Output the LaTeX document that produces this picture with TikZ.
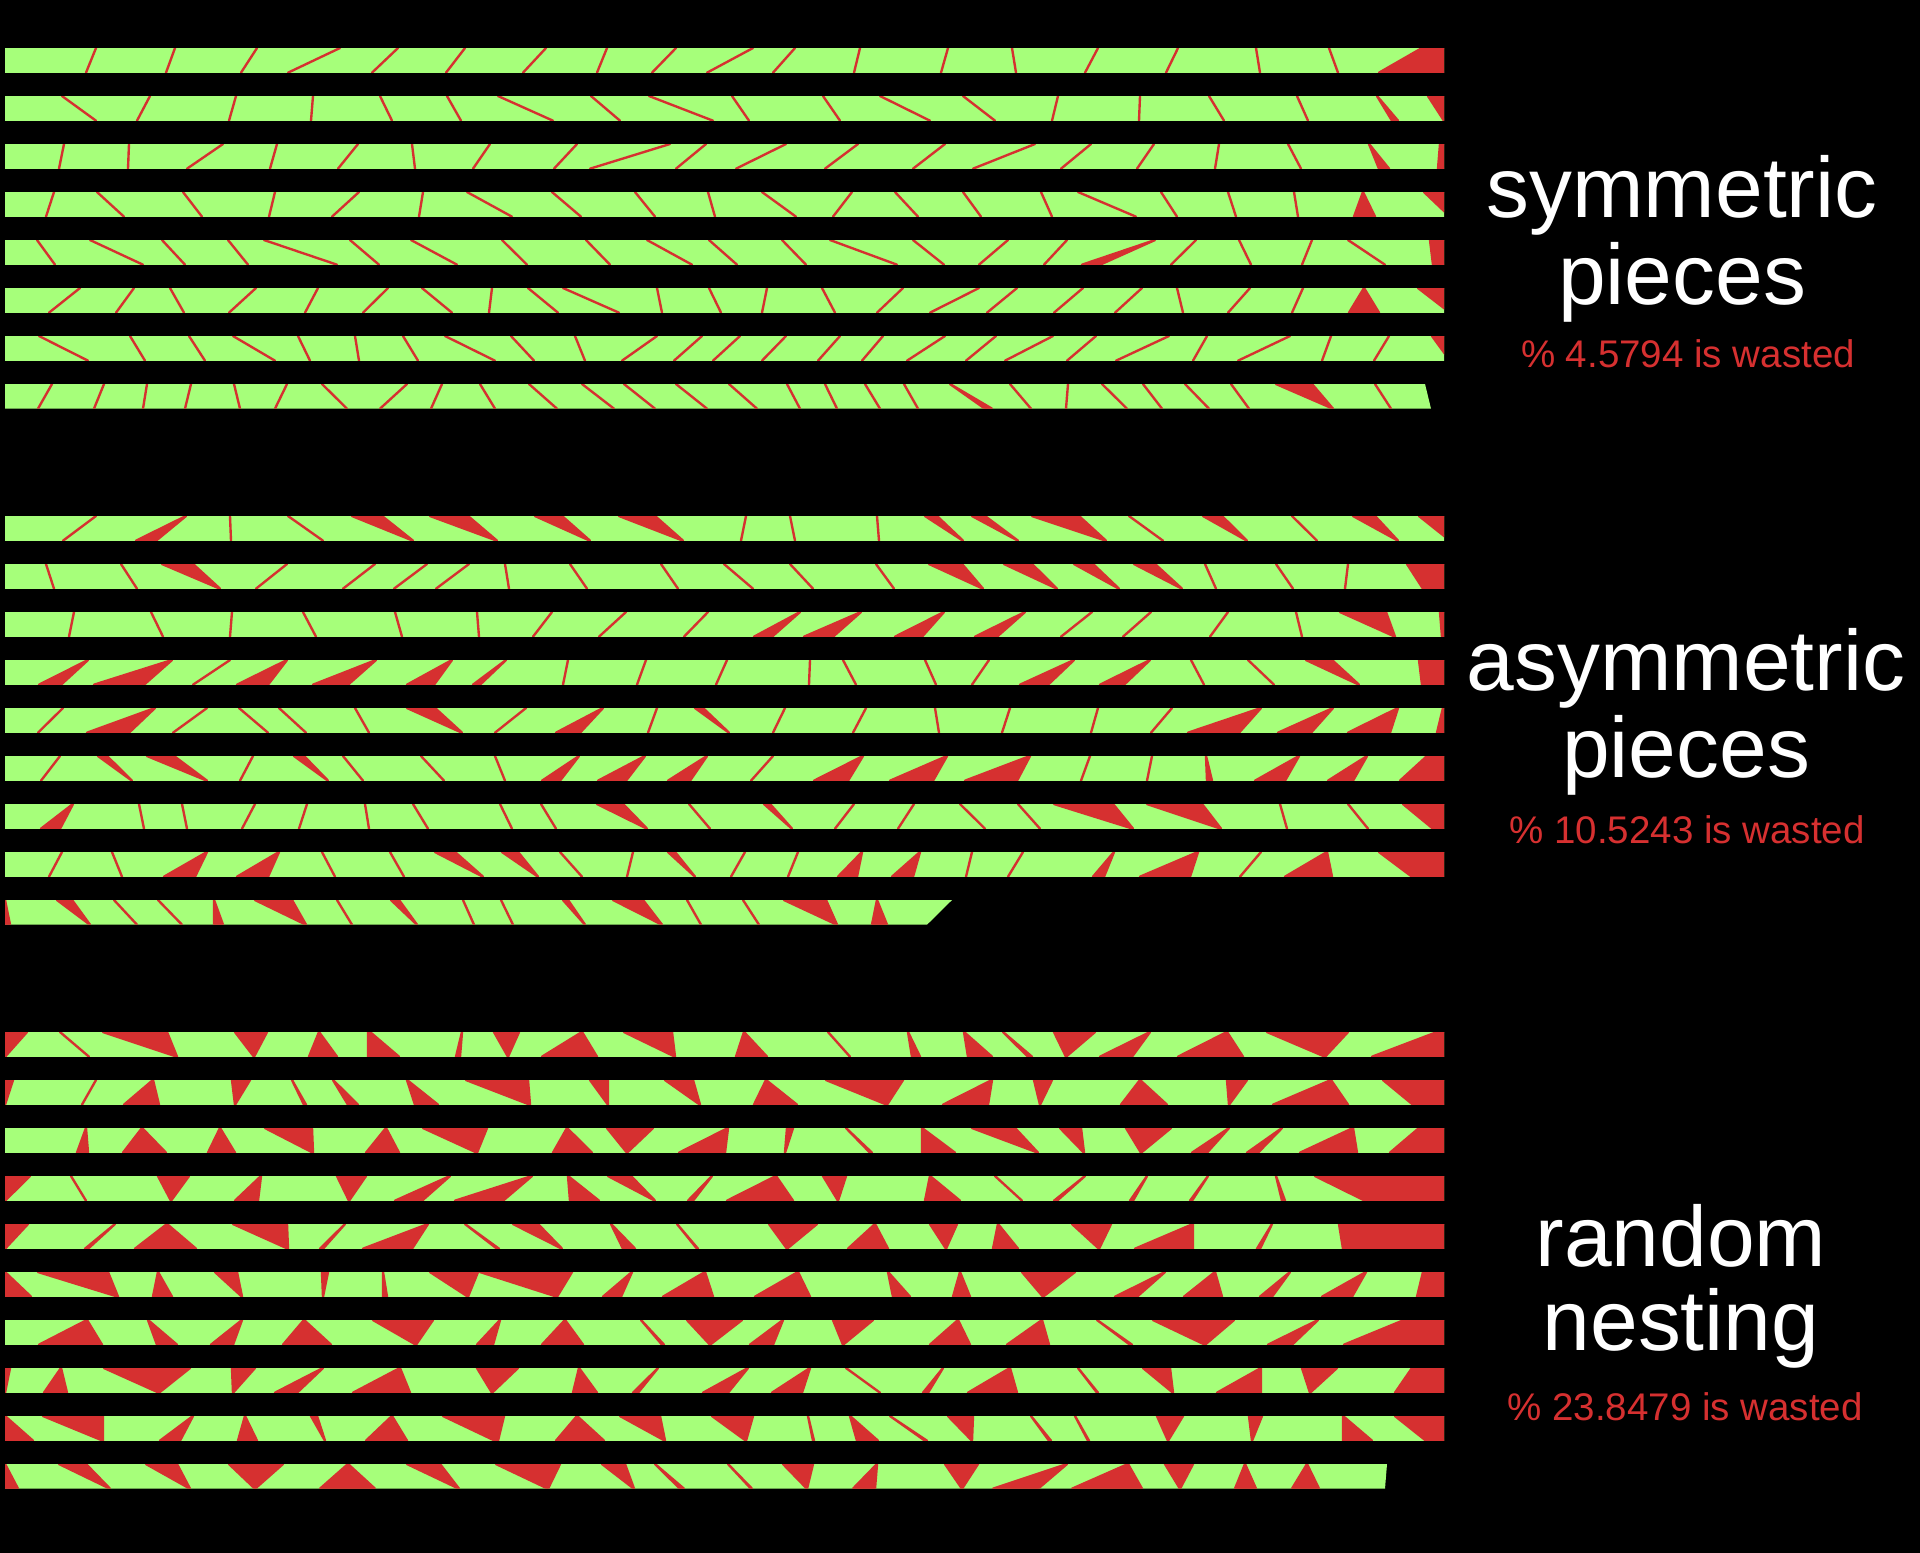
\documentclass[tikz,border=0pt]{standalone}
\usepackage{fontspec}
\setmainfont{Liberation Sans}
\definecolor{leafgreen}{RGB}{166,255,122}
\definecolor{wastered}{RGB}{214,48,48}
\tikzset{
  leaf/.style={fill=leafgreen},
  waste/.style={fill=wastered, draw=wastered, line width=0.95pt, line join=round},
  title/.style={text=white, inner sep=0pt, anchor=base, font=\fontsize{34.3}{34.3}\selectfont},
  subtitle/.style={text=wastered, inner sep=0pt, anchor=base, font=\fontsize{15.4}{15.4}\selectfont}
}
% #1 top y, #2 right end (top), #3 right end (bottom), #4 list of waste cuts t1/t2/b1/b2
\newcommand\cutrow[4]{%
  \begin{scope}
    \clip (5,#1) -- (#2,#1) -- (#3,#1+24.7) -- (5,#1+24.7) -- cycle;
    \fill[leaf] (0,#1-2) rectangle (1450,#1+27);
    \foreach \ta/\tb/\ba/\bb in {#4} {
      \filldraw[waste] (\ta,#1) -- (\tb,#1) -- (\bb,#1+24.7) -- (\ba,#1+24.7) -- cycle;
    }
  \end{scope}}
\begin{document}
\begin{tikzpicture}[x=0.4pt,y=-0.4pt]
\fill[black] (0,0) rectangle (1920,1553);
% ---------------- symmetric pieces ----------------
\cutrow{48}{1444}{1444}{96/96/86/86,175/175/166/166,257/257/241/241,340/340/288/288,398/398/372/372,465/465/446/446,546/546/523/523,607/607/597/597,676/676/652/652,753/753/707/707,795/795/773/773,860/860/854/854,948/948/941/941,1012/1012/1016/1016,1098/1098/1085/1085,1178/1178/1166/1166,1256/1256/1260/1260,1329/1329/1338/1338,1422/1450/1379/1450}
\cutrow{96}{1444}{1444}{62/62/96/96,150/150/137/137,236/236/229/229,313/313/311/311,380/380/392/392,447/447/461/461,498/498/553/553,591/591/620/620,649/649/713/713,732/732/749/749,823/823/840/840,880/880/930/930,963/963/995/995,1058/1058/1052/1052,1140/1140/1139/1139,1209/1209/1224/1224,1297/1297/1308/1308,1377/1377/1392/1398,1428/1450/1444/1450}
\cutrow{144}{1444}{1444}{64/64/59/59,129/129/128/128,223/223/187/187,277/277/270/270,358/358/338/338,412/412/415/415,490/490/473/473,577/577/554/554,670/670/590/590,706/706/676/676,786/786/736/736,858/858/825/825,945/945/913/913,1035/1035/973/973,1091/1091/1061/1061,1154/1154/1137/1137,1219/1219/1215/1215,1288/1288/1301/1301,1369/1369/1379/1389,1440/1450/1438/1450}
\cutrow{192}{1444}{1444}{54/54/46/46,97/97/124/124,183/183/202/202,275/275/269/269,359/359/332/332,423/423/419/419,467/467/512/512,552/552/581/581,635/635/655/655,708/708/715/715,762/762/796/796,852/852/833/833,895/895/918/918,963/963/981/981,1041/1041/1052/1052,1078/1078/1136/1136,1161/1161/1177/1177,1228/1228/1236/1236,1294/1294/1298/1298,1363/1363/1354/1375,1424/1450/1450/1450}
\cutrow{240}{1444}{1444}{37/37/55/55,90/90/143/143,162/162/185/185,228/228/248/248,264/264/337/337,350/350/379/379,411/411/457/457,502/502/527/527,586/586/610/610,647/647/692/692,709/709/737/737,782/782/806/806,830/830/897/897,913/913/944/944,1008/1008/979/979,1067/1067/1044/1044,1155/1155/1082/1100,1196/1196/1171/1171,1239/1239/1251/1251,1312/1312/1302/1302,1348/1348/1385/1385,1430/1450/1433/1450}
\cutrow{288}{1444}{1444}{80/80/49/49,134/134/116/116,170/170/184/184,256/256/229/229,318/318/305/305,388/388/363/363,422/422/452/452,492/492/489/489,528/528/558/558,563/563/619/619,657/657/662/662,709/709/721/721,767/767/762/762,822/822/835/835,903/903/877/877,979/979/930/930,1017/1017/987/987,1083/1083/1054/1054,1142/1142/1115/1115,1177/1177/1183/1183,1250/1250/1228/1228,1303/1303/1292/1292,1364/1364/1349/1379,1418/1450/1450/1450}
\cutrow{336}{1444}{1444}{39/39/88/88,130/130/145/145,189/189/205/205,233/233/275/275,298/298/310/310,355/355/359/359,403/403/418/418,445/445/495/495,511/511/534/534,575/575/585/585,657/657/622/622,702/702/674/674,740/740/713/713,786/786/762/762,840/840/818/818,883/883/862/862,945/945/907/907,996/996/966/966,1053/1053/1005/1005,1096/1096/1067/1067,1169/1169/1116/1116,1207/1207/1193/1193,1290/1290/1238/1238,1331/1331/1322/1322,1389/1389/1374/1374,1432/1450/1450/1450}
\cutrow{384}{1425}{1431}{52/52/38/38,104/104/94/94,147/147/143/143,191/191/185/185,234/234/240/240,287/287/275/275,322/322/347/347,407/407/380/380,442/442/431/431,480/480/495/495,529/529/557/557,582/582/614/614,624/624/655/655,676/676/707/707,729/729/757/757,787/787/800/800,825/825/837/837,865/865/880/880,904/904/918/918,950/950/985/992,1010/1010/1031/1031,1068/1068/1066/1066,1102/1102/1127/1127,1143/1143/1162/1162,1185/1185/1209/1209,1231/1231/1249/1249,1276/1312/1333/1333,1375/1375/1391/1391}
% ---------------- asymmetric pieces ----------------
\cutrow{516}{1444}{1444}{96/96/63/63,186/186/136/156,230/230/231/231,288/288/323/323,352/382/413/413,430/468/497/497,535/562/590/590,619/655/683/683,746/746/741/741,790/790/795/795,877/877/879/879,925/937/963/963,972/985/1018/1018,1032/1079/1106/1106,1129/1129/1163/1163,1203/1222/1247/1247,1292/1292/1317/1317,1353/1375/1398/1398,1419/1450/1450/1450}
\cutrow{564}{1444}{1444}{46/46/54/54,121/121/137/137,162/193/220/220,287/287/256/256,375/375/343/343,427/427/394/394,469/469/436/436,505/505/509/509,570/570/587/587,661/661/678/678,724/724/753/753,790/790/813/813,876/876/894/894,929/962/983/983,1004/1032/1057/1057,1074/1093/1119/1119,1134/1155/1182/1182,1205/1205/1216/1216,1276/1276/1293/1293,1348/1348/1345/1345,1407/1450/1423/1450}
\cutrow{612}{1444}{1444}{74/74/69/69,151/151/163/163,232/232/230/230,303/303/316/316,395/395/402/402,477/477/479/479,552/552/533/533,626/626/599/599,708/708/684/684,800/800/754/772,861/861/804/833,944/944/895/922,1025/1025/975/997,1092/1092/1061/1061,1151/1151/1123/1123,1228/1228/1210/1210,1296/1296/1302/1302,1340/1386/1395/1395,1440/1450/1442/1450}
\cutrow{660}{1444}{1444}{88/88/39/61,172/172/94/144,230/230/193/193,287/287/237/268,376/376/313/348,452/452/407/434,506/506/473/480,568/568/563/563,646/646/637/637,727/727/716/716,810/810/809/809,843/843/856/856,925/925/936/936,989/989/972/972,1074/1074/1020/1048,1150/1150/1100/1124,1191/1191/1204/1204,1248/1248/1274/1274,1306/1332/1359/1359,1419/1450/1422/1450}
\cutrow{708}{1444}{1444}{63/63/38/38,155/155/87/129,207/207/173/173,239/239/268/268,279/279/306/306,355/355/369/369,407/435/462/462,526/526/495/495,603/603/556/580,657/657/648/648,695/703/729/729,785/785/773/773,866/866/853/853,935/935/939/939,1010/1010/1002/1002,1098/1098/1091/1091,1172/1172/1151/1151,1261/1261/1188/1239,1333/1333/1278/1311,1398/1398/1348/1390,1443/1450/1437/1450}
\cutrow{756}{1444}{1444}{60/60/41/41,98/107/132/132,147/174/207/207,253/253/240/240,294/304/328/328,343/343/363/363,421/421/444/444,495/495/505/505,579/579/542/560,645/645/598/626,707/707/668/690,773/773/751/751,863/863/814/848,947/947/890/933,1030/1030/965/1017,1090/1090/1081/1081,1152/1152/1147/1147,1206/1206/1207/1212,1299/1299/1255/1285,1367/1367/1328/1353,1427/1450/1400/1450}
\cutrow{804}{1444}{1444}{73/73/41/60,139/139/144/144,182/182/187/187,255/255/242/242,307/307/299/299,365/365/369/369,413/413/428/428,500/500/512/512,541/541/556/556,597/623/647/647,689/689/710/710,764/770/792/792,854/854/835/835,914/914/898/898,960/960/985/985,1018/1018/1040/1040,1054/1113/1133/1133,1147/1202/1221/1221,1280/1280/1287/1287,1348/1348/1368/1368,1403/1450/1433/1450}
\cutrow{852}{1444}{1444}{62/62/49/49,112/112/122/122,207/207/164/195,279/279/237/268,322/322/335/335,390/390/404/404,435/455/483/483,502/518/538/538,560/560/582/582,633/633/627/627,668/675/695/695,745/745/731/731,798/798/788/788,862/862/838/857,920/920/892/913,972/972/966/966,1023/1023/1008/1008,1114/1114/1093/1104,1198/1198/1140/1190,1261/1261/1240/1240,1327/1327/1285/1332,1379/1450/1412/1450}
\cutrow{900}{952}{927}{5/5/5/10,57/72/90/90,114/114/137/137,158/158/182/182,214/214/214/223,255/292/306/306,337/337/352/352,391/399/417/417,463/463/474/474,501/501/513/513,563/568/585/585,613/643/662/662,687/687/701/701,743/743/759/759,784/826/837/837,877/877/872/887}
% ---------------- random nesting ----------------
\cutrow{1032}{1444}{1444}{5/27/5/5,60/60/89/89,103/167/177/177,235/267/254/254,319/319/309/337,368/370/368/399,462/462/456/460,494/519/508/508,582/582/542/597,624/672/675/675,744/744/736/767,828/828/850/850,908/908/912/920,964/964/968/992,1003/1003/1028/1032,1054/1095/1066/1066,1150/1150/1100/1132,1227/1227/1178/1243,1267/1348/1325/1325,1437/1450/1372/1450}
\cutrow{1080}{1444}{1444}{5/13/5/5,96/96/82/82,153/153/124/159,232/250/235/235,292/292/304/306,333/333/348/358,407/407/415/438,466/528/530/530,590/608/608/608,665/693/700/700,766/766/754/797,826/903/887/887,992/992/943/988,1034/1052/1040/1040,1140/1140/1121/1167,1227/1247/1229/1229,1331/1331/1273/1348,1383/1450/1413/1450}
\cutrow{1128}{1444}{1444}{86/86/77/88,142/142/123/166,220/220/208/235,265/312/313/313,386/386/366/399,423/487/477/477,567/567/553/592,607/653/627/627,728/728/679/725,787/793/785/785,846/846/870/872,922/922/922/955,972/1015/1038/1038,1060/1081/1084/1084,1126/1171/1141/1141,1229/1229/1192/1207,1282/1282/1247/1258,1353/1353/1300/1357,1419/1450/1390/1450}
\cutrow{1176}{1444}{1444}{5/30/5/5,71/71/86/86,158/189/171/171,261/261/235/258,337/366/349/349,450/450/395/422,532/532/455/503,568/568/570/599,608/631/655/655,712/712/688/693,776/776/727/793,823/846/838/838,930/930/925/960,995/995/1022/1022,1085/1085/1054/1057,1147/1147/1130/1133,1208/1208/1190/1192,1276/1276/1282/1285,1315/1450/1365/1450}
\cutrow{1224}{1444}{1444}{5/28/5/5,115/115/85/88,167/167/135/196,233/287/288/288,345/345/320/323,428/428/363/412,465/465/497/499,513/538/562/562,611/611/623/635,677/677/697/698,769/817/787/787,875/875/848/888,930/957/946/946,998/998/993/1018,1072/1111/1099/1099,1193/1193/1135/1193,1272/1272/1257/1260,1339/1450/1343/1450}
\cutrow{1272}{1444}{1444}{5/5/5/31,38/108/118/118,158/158/153/172,215/237/242/242,322/328/323/323,383/383/383/387,430/478/468/468,480/572/557/557,632/632/603/621,705/705/663/713,798/798/755/810,888/888/893/910,960/960/953/970,1022/1075/1043/1043,1165/1165/1115/1137,1215/1215/1184/1222,1290/1290/1260/1272,1366/1366/1322/1352,1423/1450/1417/1450}
\cutrow{1320}{1444}{1444}{87/87/39/102,148/148/157/177,242/242/211/233,304/304/283/331,373/433/416/416,500/500/477/493,565/565/542/583,641/641/662/664,687/742/710/710,783/783/750/773,833/873/843/843,958/958/930/970,1042/1042/1007/1049,1097/1097/1130/1132,1153/1234/1205/1205,1318/1318/1268/1292,1404/1450/1344/1450}
\cutrow{1368}{1444}{1444}{5/10/5/5,61/61/44/67,104/190/159/159,232/255/233/233,323/323/275/297,400/400/353/410,477/518/492/492,579/579/573/597,658/658/633/638,748/748/703/728,810/810/772/802,846/846/880/880,943/943/923/928,1010/1010/968/1017,1078/1078/1097/1098,1143/1170/1173/1173,1261/1261/1217/1261,1302/1337/1310/1310,1412/1450/1395/1450}
\cutrow{1416}{1444}{1444}{5/5/5/33,43/103/103/103,193/193/160/180,245/245/238/257,311/317/325/325,392/392/366/407,443/504/495/498,577/577/556/604,620/660/665/665,712/753/746/746,808/808/813/814,850/850/857/878,890/890/925/927,948/973/972/972,1031/1031/1049/1051,1075/1075/1088/1089,1157/1183/1168/1168,1249/1262/1252/1252,1343/1343/1343/1372,1395/1450/1426/1450}
\cutrow{1464}{1387}{1385}{5/5/5/18,59/86/110/110,146/177/190/190,229/283/255/255,348/348/320/375,407/440/459/459,496/560/548/548,602/625/634/634,655/655/680/684,728/728/751/752,783/813/807/807,877/877/853/875,945/978/962/962,1067/1067/993/1038,1128/1128/1072/1142,1165/1193/1180/1180,1245/1245/1235/1256,1307/1307/1292/1319}
% ---------------- labels ----------------
\node[title] (symA) at (1682,217) {symmetric};
\node[title] (symB) at (1682,304) {pieces};
\node[subtitle] (symW) at (1688,367) {\% 4.5794 is wasted};
\node[title] (asyA) at (1686,690) {asymmetric};
\node[title] (asyB) at (1686,777) {pieces};
\node[subtitle] (asyW) at (1687,843) {\% 10.5243 is wasted};
\node[title] (rndA) at (1681,1266) {random};
\node[title] (rndB) at (1681,1350) {nesting};
\node[subtitle] (rndW) at (1685,1420) {\% 23.8479 is wasted};
\end{tikzpicture}
\end{document}
